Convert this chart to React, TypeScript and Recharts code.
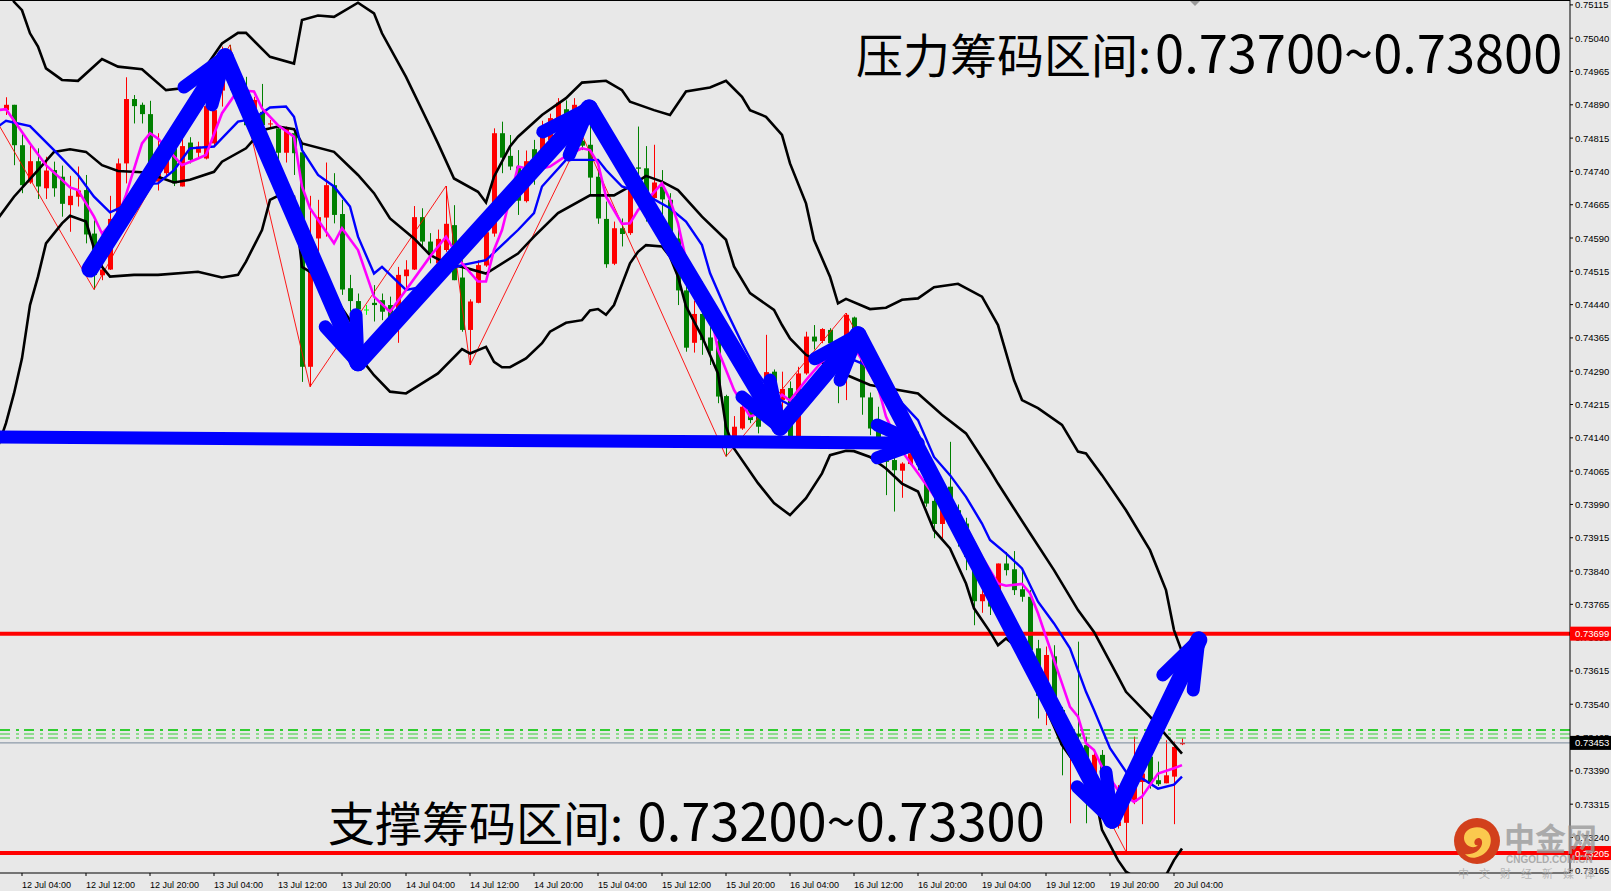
import { ComposedChart, Bar, Line, XAxis, YAxis, ReferenceLine } from 'recharts'

// all prices are in points (1/100000), one bar per hour, k = bar index
const opens = [
    74878, 74890, 74799, 74715, 74763, 74702, 74743, 74728, 74664, 74683,
    74698, 74600, 74506, 74519, 74633, 74758, 74903, 74890, 74869, 74717,
    74736, 74799, 74706, 74805, 74782, 74769, 74803, 74922, 74959, 74938,
    74901, 74848, 74874, 74846, 74837, 74782, 74826, 74783, 74300, 74589,
    74636, 74709, 74644, 74477, 74448, 74429, 74444, 74450, 74439, 74424,
    74504, 74519, 74637, 74582, 74533, 74563, 74619, 74501, 74383, 74444,
    74528, 74600, 74826, 74775, 74751, 74673, 74790, 74785, 74810, 74830,
    74880, 74850, 74809, 74800, 74728, 74633, 74532, 74612, 74601, 74749,
    74747, 74680, 74706, 74676, 74589, 74472, 74354, 74419, 74366, 74357,
    74234, 74135, 74161, 74207, 74195, 74195, 74289, 74225, 74252, 74135,
    74285, 74368, 74358, 74383, 74345, 74278, 74411, 74327, 74231, 74161,
    74128, 74090, 74066, 74081, 74112, 74060, 73998, 73946, 74030, 73977,
    73947, 73846, 73772, 73808, 73793, 73857, 73844, 73799, 73782, 73666,
    73587, 73648, 73527, 73448, 73474, 73448, 73369, 73426, 73373, 73266,
    73273, 73320, 73365, 73422, 73369, 73362, 73377, 73450,
]
const closes = [
    74890, 74799, 74709, 74763, 74706, 74742, 74702, 74667, 74685, 74697,
    74598, 74507, 74519, 74633, 74758, 74903, 74887, 74869, 74758, 74736,
    74773, 74713, 74797, 74766, 74796, 74887, 74878, 74972, 74938, 74901,
    74844, 74901, 74844, 74848, 74782, 74837, 74781, 74300, 74540, 74637,
    74709, 74642, 74474, 74448, 74429, 74429, 74439, 74424, 74405, 74507,
    74519, 74637, 74582, 74555, 74588, 74622, 74495, 74383, 74447, 74529,
    74603, 74826, 74771, 74751, 74674, 74763, 74740, 74830, 74860, 74895,
    74845, 74890, 74798, 74726, 74634, 74531, 74612, 74599, 74706, 74746,
    74687, 74715, 74677, 74589, 74472, 74343, 74419, 74360, 74336, 74233,
    74135, 74165, 74210, 74180, 74165, 74288, 74222, 74250, 74135, 74285,
    74368, 74357, 74385, 74353, 74308, 74417, 74345, 74231, 74161, 74128,
    74086, 74067, 74082, 74105, 74079, 73992, 73946, 73983, 73977, 73910,
    73872, 73772, 73788, 73760, 73857, 73842, 73797, 73782, 73662, 73559,
    73651, 73519, 73448, 73482, 73467, 73354, 73426, 73384, 73264, 73275,
    73320, 73358, 73384, 73362, 73360, 73380, 73444, 73453,
]
const highs = [
    74907, 74890, 74826, 74803, 74792, 74773, 74762, 74753, 74730, 74751,
    74732, 74630, 74533, 74685, 74769, 74952, 74912, 74895, 74899, 74826,
    74796, 74811, 74818, 74817, 74807, 74923, 74916, 75021, 75025, 74953,
    74953, 74908, 74937, 74856, 74844, 74841, 74833, 74803, 74685, 74676,
    74760, 74736, 74676, 74507, 74465, 74439, 74484, 74465, 74458, 74525,
    74540, 74662, 74657, 74601, 74609, 74707, 74664, 74540, 74452, 74540,
    74630, 74837, 74852, 74822, 74788, 74787, 74811, 74854, 74870, 74905,
    74900, 74905, 74822, 74871, 74743, 74672, 74627, 74634, 74749, 74841,
    74797, 74800, 74743, 74691, 74608, 74484, 74449, 74492, 74390, 74368,
    74237, 74189, 74233, 74225, 74218, 74372, 74294, 74289, 74267, 74300,
    74379, 74394, 74387, 74387, 74360, 74421, 74413, 74338, 74242, 74210,
    74140, 74100, 74085, 74120, 74154, 74070, 74010, 73995, 74131, 73990,
    73960, 73860, 73808, 73820, 73857, 73883, 73885, 73846, 73797, 73685,
    73670, 73673, 73534, 73493, 73681, 73467, 73437, 73437, 73385, 73358,
    73335, 73467, 73392, 73430, 73411, 73459, 73456, 73463,
]
const lows = [
    74867, 74754, 74691, 74712, 74678, 74678, 74683, 74638, 74604, 74661,
    74578, 74474, 74495, 74518, 74631, 74713, 74848, 74848, 74713, 74697,
    74732, 74707, 74706, 74758, 74769, 74767, 74796, 74886, 74923, 74893,
    74842, 74841, 74826, 74837, 74743, 74760, 74732, 74266, 74255, 74559,
    74593, 74623, 74462, 74424, 74405, 74417, 74402, 74405, 74398, 74354,
    74473, 74518, 74567, 74533, 74529, 74559, 74495, 74379, 74304, 74443,
    74525, 74593, 74736, 74743, 74642, 74670, 74710, 74770, 74800, 74820,
    74830, 74835, 74788, 74687, 74622, 74523, 74529, 74571, 74597, 74728,
    74627, 74676, 74631, 74541, 74439, 74334, 74332, 74327, 74304, 74218,
    74098, 74120, 74158, 74173, 74150, 74180, 74150, 74173, 74131, 74131,
    74282, 74339, 74353, 74345, 74218, 74225, 74334, 74192, 74146, 74124,
    74011, 73974, 74005, 74079, 74067, 73985, 73914, 73914, 73965, 73895,
    73842, 73718, 73746, 73741, 73780, 73830, 73786, 73771, 73650, 73508,
    73493, 73500, 73380, 73272, 73407, 73272, 73354, 73362, 73260, 73260,
    73208, 73315, 73270, 73350, 73356, 73362, 73270, 73448,
]

type Pt = [number, number]

// bollinger bands, read by eye
const bbUpper: Pt[] = [
    [0, 75160], [1, 75122], [2, 75103], [3, 75051], [4, 75021], [5, 74972], [7, 74946], [9, 74944], [12, 74993],
    [14, 74976], [17, 74970], [20, 74923], [22, 74927], [25, 74976], [27, 75028], [29, 75052], [30, 75052],
    [33, 74998], [36, 74983], [37, 75081], [39, 75091], [41, 75088], [44, 75120], [46, 75096], [47, 75051],
    [50, 74953], [53, 74841], [54, 74803], [56, 74724], [59, 74694], [60, 74670], [61, 74728], [63, 74796],
    [64, 74818], [67, 74867], [70, 74905], [72, 74940], [75, 74944], [77, 74923], [78, 74897], [81, 74878],
    [83, 74867], [85, 74920], [88, 74929], [90, 74944], [92, 74908], [93, 74878], [95, 74863], [97, 74822],
    [98, 74758], [100, 74668], [101, 74586], [103, 74503], [104, 74443], [105, 74453], [108, 74430], [110, 74433],
    [112, 74451], [114, 74454], [116, 74479], [119, 74487], [122, 74458], [124, 74394], [126, 74270], [127, 74225],
    [129, 74207], [132, 74169], [134, 74109], [135, 74105], [137, 74056], [140, 73977], [143, 73887], [145, 73797],
    [146, 73707], [147, 73658],
]
const bbMiddle: Pt[] = [
    [-1, 74634], [1, 74683], [4, 74743], [6, 74784], [8, 74790], [10, 74784], [12, 74754], [14, 74741], [17, 74738],
    [19, 74728], [21, 74715], [23, 74721], [26, 74739], [27, 74762], [30, 74792], [32, 74833], [34, 74841],
    [36, 74835], [37, 74803], [41, 74784], [44, 74732], [46, 74691], [48, 74634], [51, 74589], [53, 74552],
    [55, 74533], [57, 74525], [60, 74510], [64, 74555], [66, 74593], [69, 74646], [73, 74686], [76, 74686],
    [78, 74706], [80, 74730], [82, 74717], [84, 74698], [87, 74638], [90, 74586], [91, 74526], [93, 74466],
    [96, 74428], [97, 74394], [98, 74364], [100, 74327], [105, 74282], [108, 74259], [114, 74240], [117, 74192],
    [120, 74150], [123, 74067], [124, 74037], [126, 73981], [128, 73925], [131, 73842], [134, 73752], [136, 73703],
    [139, 73602], [140, 73568], [143, 73512], [147, 73429],
]
const bbLower: Pt[] = [
    [-1, 74120], [0, 74173], [1, 74240], [2, 74319], [3, 74439], [4, 74503], [5, 74578], [7, 74623], [8, 74640],
    [10, 74627], [11, 74567], [12, 74525], [13, 74503], [16, 74507], [19, 74507], [24, 74514], [27, 74501],
    [29, 74507], [30, 74537], [32, 74608], [33, 74676], [34, 74685], [36, 74683], [37, 74525], [39, 74503],
    [41, 74458], [43, 74405], [45, 74304], [46, 74281], [48, 74244], [50, 74240], [54, 74285], [57, 74340],
    [58, 74330], [60, 74345], [61, 74311], [62, 74299], [63, 74299], [65, 74319], [67, 74353], [68, 74379],
    [70, 74399], [72, 74405], [73, 74427], [74, 74430], [75, 74417], [76, 74439], [78, 74533], [79, 74559],
    [80, 74574], [82, 74571], [83, 74548], [84, 74503], [85, 74436], [87, 74368], [89, 74285], [90, 74165],
    [91, 74116], [94, 74038], [96, 73993], [98, 73966], [100, 74004], [102, 74060], [103, 74101], [105, 74111],
    [106, 74110], [108, 74097], [110, 74071], [112, 74037], [114, 74019], [116, 73932], [118, 73891], [120, 73812],
    [121, 73756], [123, 73703], [124, 73673], [125, 73688], [127, 73660], [129, 73570], [131, 73490], [132, 73448],
    [136, 73347], [137, 73257], [139, 73189], [140, 73163], [141, 73152], [143, 73140], [145, 73155], [146, 73189],
    [147, 73215],
]
// moving averages
const maBlue: Pt[] = [
    [-1, 74841], [0, 74854], [3, 74842], [6, 74788], [9, 74732], [11, 74683], [13, 74648], [15, 74664], [18, 74712],
    [19, 74713], [21, 74743], [23, 74792], [26, 74796], [29, 74852], [31, 74859], [33, 74884], [35, 74886],
    [36, 74863], [37, 74788], [39, 74732], [41, 74706], [43, 74661], [44, 74593], [46, 74510], [47, 74525],
    [50, 74473], [52, 74480], [55, 74518], [57, 74529], [60, 74540], [62, 74574], [64, 74608], [66, 74646],
    [67, 74706], [70, 74766], [72, 74766], [74, 74766], [75, 74743], [77, 74706], [80, 74687], [83, 74657],
    [85, 74627], [87, 74574], [88, 74511], [90, 74428], [92, 74353], [94, 74285], [96, 74233], [98, 74214],
    [100, 74233], [103, 74285], [106, 74315], [108, 74300], [110, 74278], [112, 74218], [114, 74180], [116, 74097],
    [118, 74056], [120, 74007], [122, 73947], [123, 73910], [125, 73880], [127, 73846], [129, 73771], [131, 73722],
    [133, 73666], [135, 73568], [136, 73527], [138, 73441], [140, 73388], [142, 73373], [144, 73350], [146, 73359],
    [147, 73377],
]
const maMagenta: Pt[] = [
    [-1, 74878], [0, 74880], [2, 74829], [3, 74803], [5, 74754], [7, 74721], [8, 74704], [9, 74698], [11, 74638],
    [12, 74600], [14, 74638], [15, 74687], [17, 74803], [18, 74826], [19, 74814], [22, 74754], [24, 74769],
    [25, 74777], [27, 74871], [29, 74923], [31, 74920], [32, 74882], [34, 74844], [36, 74818], [37, 74706],
    [38, 74657], [41, 74578], [42, 74612], [44, 74563], [46, 74458], [48, 74424], [50, 74473], [53, 74548],
    [55, 74593], [57, 74533], [59, 74492], [60, 74492], [61, 74563], [62, 74608], [64, 74751], [66, 74743],
    [68, 74751], [70, 74775], [72, 74792], [73, 74788], [74, 74758], [75, 74683], [77, 74622], [78, 74623],
    [79, 74653], [82, 74713], [83, 74676], [84, 74623], [85, 74541], [88, 74428], [89, 74338], [91, 74248],
    [93, 74188], [95, 74200], [97, 74237], [98, 74224], [100, 74270], [102, 74312], [106, 74345], [109, 74255],
    [110, 74188], [112, 74110], [114, 74060], [116, 74010], [118, 73975], [120, 73940], [122, 73872], [124, 73812],
    [125, 73807], [127, 73811], [128, 73790], [129, 73745], [130, 73692], [132, 73587], [133, 73534], [134, 73512],
    [135, 73452], [136, 73437], [137, 73399], [139, 73347], [141, 73320], [142, 73332], [144, 73384], [146, 73396],
    [147, 73403],
]
const zigzag: Pt[] = [
    [-1, 74848], [11, 74474], [28, 75025], [38, 74255], [55, 74707], [58, 74304], [72, 74822], [90, 74098],
    [105, 74421], [140, 73208],
]

// hand drawn arrows: start, tip, barb, tip, barb
const arrowUp1: Pt[] = [[10.5, 74520], [27.4, 74998], [22.25, 74930], [27.4, 74998], [25.75, 74890]]
const arrowDown1: Pt[] = [[27.4, 74998], [44, 74309], [39.9, 74390], [44, 74309], [43.75, 74417]]
const arrowUp2: Pt[] = [[44, 74309], [72.9, 74883], [67.1, 74829], [72.9, 74883], [70.4, 74777]]
const arrowDown2: Pt[] = [[72.9, 74883], [96.75, 74164], [92, 74232], [96.75, 74164], [95.5, 74270]]
const arrowUp3: Pt[] = [[96.75, 74164], [106.5, 74372], [101.1, 74318], [106.5, 74372], [104.25, 74270]]
const arrowDown3: Pt[] = [[106.5, 74372], [138.25, 73279], [133.9, 73354], [138.25, 73279], [137.5, 73387]]
const arrowUp4: Pt[] = [[138.25, 73279], [149.1, 73685], [144.6, 73606], [149.1, 73685], [148.4, 73572]]
const arrowFlat: Pt[] = [[-0.75, 74142], [114, 74128], [108.9, 74169], [114, 74128], [108.9, 74095]]
const arrows = [arrowFlat, arrowUp1, arrowDown1, arrowUp2, arrowDown2, arrowUp3, arrowDown3, arrowUp4]

const priceTicks = [
    75115, 75040, 74965, 74890, 74815, 74740, 74665, 74590, 74515, 74440, 74365, 74290, 74215, 74140,
    74065, 73990, 73915, 73840, 73765, 73690, 73615, 73540, 73465, 73390, 73315, 73240, 73165,
]
const resistanceLine = 73699
const supportLine = 73205
const lastPrice = 73453
const greenLevels = [73482, 73473, 73464]

const timeTickBars = [2, 10, 18, 26, 34, 42, 50, 58, 66, 74, 82, 90, 98, 106, 114, 122, 130, 138, 146]
const timeLabels = [
    '12 Jul 04:00', '12 Jul 12:00', '12 Jul 20:00', '13 Jul 04:00', '13 Jul 12:00', '13 Jul 20:00', '14 Jul 04:00',
    '14 Jul 12:00', '14 Jul 20:00', '15 Jul 04:00', '15 Jul 12:00', '15 Jul 20:00', '16 Jul 04:00', '16 Jul 12:00',
    '16 Jul 20:00', '19 Jul 04:00', '19 Jul 12:00', '19 Jul 20:00', '20 Jul 04:00',
]

const candles = opens.map((open, k) => ({
    k,
    open,
    close: closes[k],
    range: [lows[k], highs[k]],
}))
const toRows = (pts: Pt[]) => pts.map(([k, v]) => ({ k, v }))

const AXIS_FONT = '"Liberation Sans", sans-serif'
const CJK_FONT = '"Noto Sans CJK SC", sans-serif'

const Candle = (props: any) => {
    const { x, y, width, height, payload } = props
    const hi = payload.range[1]
    const lo = payload.range[0]
    const ratio = hi === lo ? 0 : height / (hi - lo)
    const top = y + (hi - Math.max(payload.open, payload.close)) * ratio
    const bottom = y + (hi - Math.min(payload.open, payload.close)) * ratio
    const color = payload.close > payload.open ? '#ff0000' : payload.close === payload.open ? '#00ff00' : '#008000'
    const cx = Math.round(x + width / 2)
    return (
        <g>
            <rect x={cx} y={y} width={1} height={height} fill={color} />
            <rect x={cx - 2} y={top} width={5} height={Math.max(bottom - top, 1)} fill={color} />
        </g>
    )
}

const PriceTick = (props: any) => {
    const { x, y, payload } = props
    const v = payload.value
    const boxed = v === resistanceLine || v === supportLine || v === lastPrice
    const fill = v === lastPrice ? '#000000' : '#ff0000'
    return (
        <g>
            {boxed && <rect x={x - 5} y={y - 7} width={43} height={14} fill={fill} />}
            <text x={x} y={y + 3.5} fontSize={9.5} fontFamily={AXIS_FONT} fill={boxed ? '#ffffff' : '#000000'}>
                {(v / 100000).toFixed(5)}
            </text>
        </g>
    )
}

const TimeTick = (props: any) => {
    const { x, y, payload } = props
    return (
        <text x={x} y={y + 10} fontSize={9} fontFamily={AXIS_FONT} fill="#000000">
            {timeLabels[timeTickBars.indexOf(payload.value)]}
        </text>
    )
}

const Watermark = () => (
    <>
        <svg width={50} height={50} style={{ position: 'absolute', left: 1452, top: 816 }}>
            <circle cx={25} cy={25} r={23} fill="#d2401c" />
            <path
                d="M12 22 C12 10 30 8 36 16 C42 24 38 36 28 40 C22 43 16 42 13 38 C20 39 28 36 30 28 C31 22 26 20 23 24 C21 28 24 30 26 29 C22 34 12 30 12 22 Z"
                fill="#fbc94e"
            />
        </svg>
        <div style={{ position: 'absolute', left: 1504, top: 819, fontFamily: CJK_FONT, fontWeight: 700, fontSize: 31, lineHeight: '36px', color: 'rgba(150,150,150,0.75)', whiteSpace: 'nowrap' }}>
            中金网
        </div>
        <div style={{ position: 'absolute', left: 1506, top: 854, fontFamily: AXIS_FONT, fontWeight: 700, fontSize: 10, lineHeight: '12px', color: 'rgba(160,160,160,0.85)', whiteSpace: 'nowrap' }}>
            CNGOLD.COM.CN
        </div>
        <div style={{ position: 'absolute', left: 1458, top: 866, fontFamily: CJK_FONT, fontSize: 11, lineHeight: '14px', letterSpacing: 10, color: 'rgba(170,170,170,0.85)', whiteSpace: 'nowrap' }}>
            中文财经新媒体
        </div>
    </>
)

const bigText = {
    position: 'absolute',
    fontFamily: CJK_FONT,
    fontSize: 47,
    lineHeight: '60px',
    color: '#000000',
    whiteSpace: 'nowrap',
} as const
const bigDigits = { fontSize: 52.4, marginLeft: 4 }

export default function App() {
    return (
        <div style={{ position: 'absolute', left: 0, top: 0, width: 1611, height: 891, overflow: 'hidden', background: '#e8e8e8' }}>
            <ComposedChart
                width={1611}
                height={891}
                data={candles}
                margin={{ top: 0, right: 0, bottom: 0, left: 0 }}
            >
                <XAxis
                    dataKey="k"
                    type="number"
                    domain={[-0.75, 195.5]}
                    allowDataOverflow
                    ticks={timeTickBars}
                    interval={0}
                    height={18}
                    tickSize={3}
                    stroke="#000000"
                    tick={<TimeTick />}
                />
                <YAxis
                    orientation="right"
                    type="number"
                    domain={[73160, 75126]}
                    allowDataOverflow
                    ticks={[...priceTicks, resistanceLine, lastPrice, supportLine]}
                    interval={0}
                    width={41}
                    tickSize={3}
                    tickMargin={2}
                    stroke="#000000"
                    tick={<PriceTick />}
                />
                <Bar dataKey="range" barSize={5} shape={<Candle />} isAnimationActive={false} />
                <Line data={toRows(zigzag)} dataKey="v" stroke="#ff0000" strokeWidth={0.9} dot={false} isAnimationActive={false} />
                {greenLevels.map((level, i) => (
                    <ReferenceLine
                        key={level}
                        y={level}
                        stroke="#32cd32"
                        strokeWidth={i === 0 ? 2 : 1}
                        strokeDasharray="10 5 3 6"
                    />
                ))}
                <ReferenceLine y={lastPrice} stroke="#778899" strokeWidth={1} />
                <ReferenceLine y={resistanceLine} stroke="#ff0000" strokeWidth={4} />
                <ReferenceLine y={supportLine} stroke="#ff0000" strokeWidth={4} />
                <Line data={toRows(bbUpper)} dataKey="v" stroke="#000000" strokeWidth={2.6} dot={false} isAnimationActive={false} />
                <Line data={toRows(bbMiddle)} dataKey="v" stroke="#000000" strokeWidth={2.6} dot={false} isAnimationActive={false} />
                <Line data={toRows(bbLower)} dataKey="v" stroke="#000000" strokeWidth={2.6} dot={false} isAnimationActive={false} />
                <Line data={toRows(maBlue)} dataKey="v" stroke="#0000ff" strokeWidth={2.4} dot={false} isAnimationActive={false} />
                <Line data={toRows(maMagenta)} dataKey="v" stroke="#ff00ff" strokeWidth={2.6} dot={false} isAnimationActive={false} />
                {arrows.map((arrow, i) => (
                    <Line
                        key={`shaft-${i}`}
                        data={toRows(arrow.slice(0, 2))}
                        dataKey="v"
                        stroke="#0000ff"
                        strokeWidth={i === 0 ? 13 : 17}
                        strokeLinecap="round"
                        dot={false}
                        isAnimationActive={false}
                    />
                ))}
                {arrows.map((arrow, i) => (
                    <Line
                        key={`head-${i}`}
                        data={toRows(arrow.slice(1))}
                        dataKey="v"
                        stroke="#0000ff"
                        strokeWidth={13}
                        strokeLinecap="round"
                        strokeLinejoin="round"
                        dot={false}
                        isAnimationActive={false}
                    />
                ))}
            </ComposedChart>
            <div style={{ position: 'absolute', left: 0, top: 0, width: 1570, height: 1, background: '#000000' }} />
            <div style={{ position: 'absolute', left: 1190, top: 1, width: 0, height: 0, borderLeft: '5px solid transparent', borderRight: '5px solid transparent', borderTop: '5px solid #9a9a9a' }} />
            <div style={{ ...bigText, left: 856, top: 20 }}>压力筹码区间:<span style={bigDigits}>0.73700~0.73800</span></div>
            <div style={{ ...bigText, left: 328, top: 788 }}>支撑筹码区间: <span style={bigDigits}>0.73200~0.73300</span></div>
            <Watermark />
        </div>
    )
}
